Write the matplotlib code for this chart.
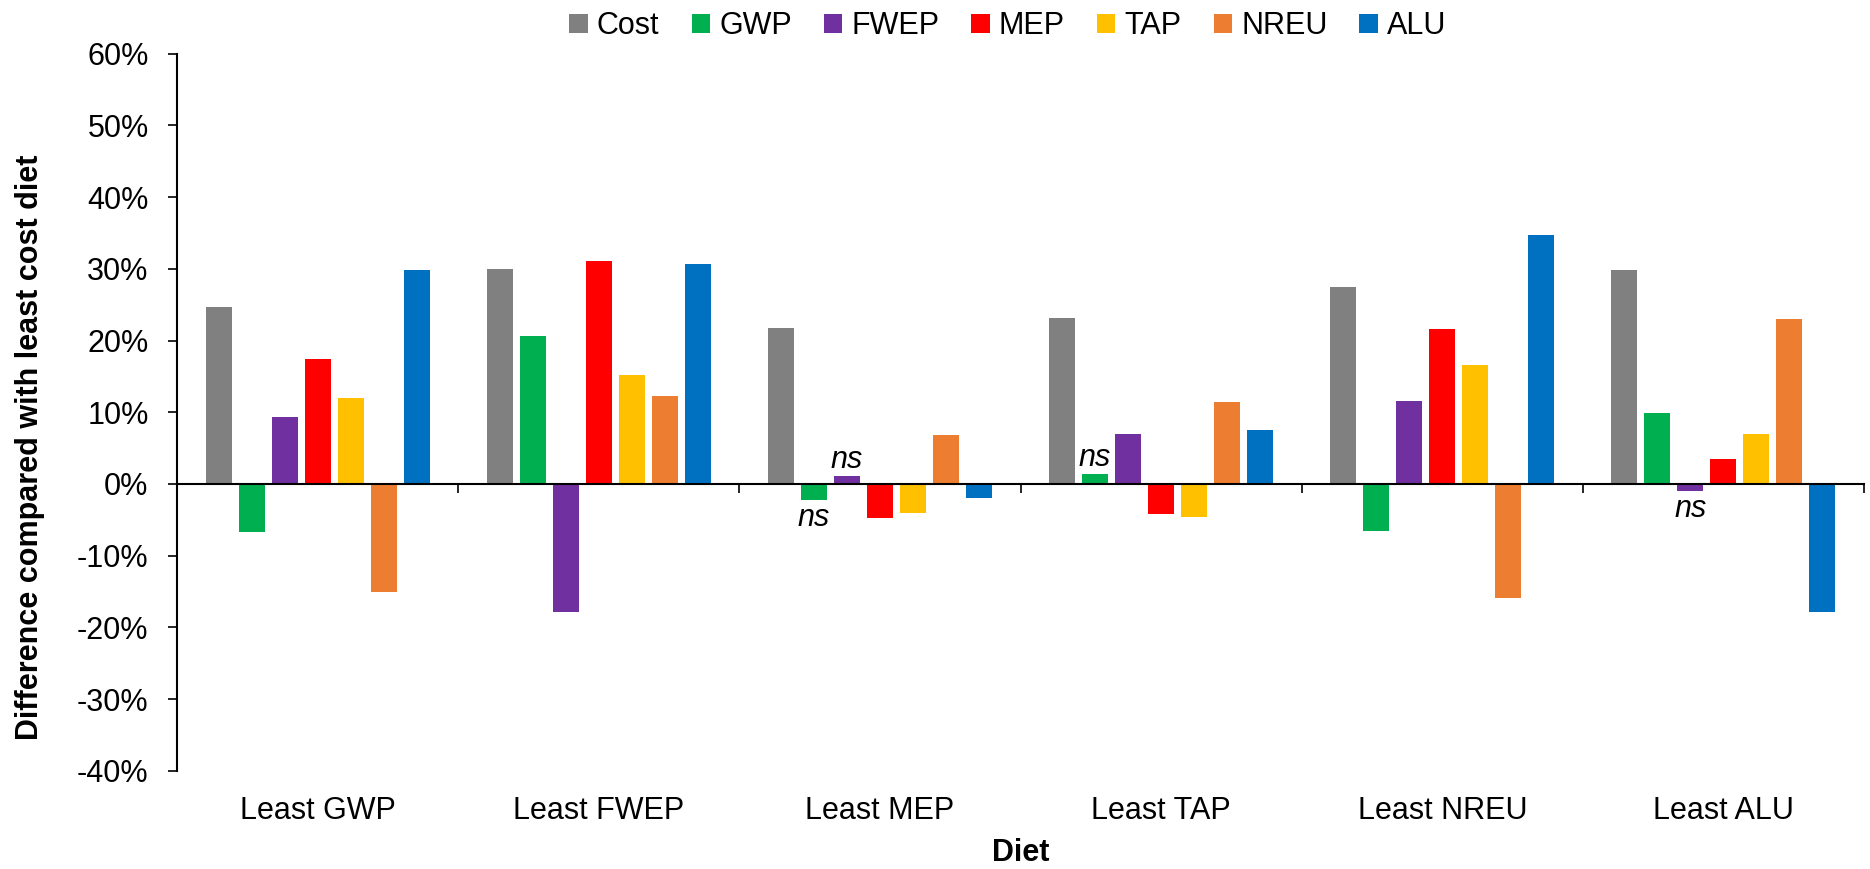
import matplotlib.pyplot as plt
import numpy as np
from matplotlib.transforms import blended_transform_factory
from matplotlib.ticker import FuncFormatter

# % difference of each optimised diet against the least cost diet
diets = ['Least GWP', 'Least FWEP', 'Least MEP', 'Least TAP', 'Least NREU', 'Least ALU']
series = ['Cost', 'GWP', 'FWEP', 'MEP', 'TAP', 'NREU', 'ALU']

cost = [24.7, 30.0, 21.7, 23.2, 27.4, 29.8]
gwp = [-6.7, 20.6, -2.3, 1.4, -6.6, 9.9]
fwep = [9.4, -17.9, 1.1, 7.0, 11.5, -1.0]
mep = [17.4, 31.1, -4.8, -4.2, 21.6, 3.5]
tap = [12.0, 15.2, -4.1, -4.6, 16.6, 7.0]
nreu = [-15.0, 12.2, 6.8, 11.4, -15.9, 23.0]
alu = [29.8, 30.7, -2.0, 7.5, 34.7, -17.8]

values = [cost, gwp, fwep, mep, tap, nreu, alu]
colours = ['#808080', '#00B050', '#7030A0', '#FF0000', '#FFC000', '#ED7D31', '#0070C0']

# differences that are not significant: (series, diet)
ns_marks = [('GWP', 2), ('FWEP', 2), ('GWP', 3), ('FWEP', 5)]

plt.rcParams['font.family'] = 'Liberation Sans'
fs = 22

fig = plt.figure(figsize=(18.7, 8.69), dpi=100)
ax = fig.add_axes([0.0947, 0.1128, 0.9021, 0.8256])

x = np.arange(len(diets)) + 0.5
slot = 0.1174
width = 0.0925

for k in range(len(series)):
	ax.bar(x + (k - 3) * slot, values[k], width, color=colours[k], label=series[k], zorder=2)

# ns labels sit just past the end of the bar
for name, i in ns_marks:
	k = series.index(name)
	v = values[k][i]
	if v >= 0:
		off, va = 1, 'bottom'
	else:
		off, va = -2, 'top'
	ax.annotate('ns', (x[i] + (k - 3) * slot, v), xytext=(0, off), textcoords='offset points',
		ha='center', va=va, fontsize=fs, style='italic')

ax.set_xlim(0, len(diets))
ax.set_ylim(-40, 60)
ax.set_yticks(range(-40, 61, 10))
ax.yaxis.set_major_formatter(FuncFormatter(lambda v, p: '%d%%' % v))

ax.spines['top'].set_visible(False)
ax.spines['right'].set_visible(False)
ax.spines['bottom'].set_position(('data', 0))
ax.spines['bottom'].set_linewidth(1.5)
ax.spines['left'].set_linewidth(1.5)
ax.spines['bottom'].set_zorder(3)

ax.set_xticks(range(len(diets) + 1))
ax.set_xticklabels([])
ax.tick_params(axis='x', direction='out', length=6.5, width=1.2)
ax.tick_params(axis='y', direction='out', length=6.5, width=1.2, labelsize=fs, pad=14)

trans = blended_transform_factory(ax.transData, ax.transAxes)
for i in range(len(diets)):
	ax.text(x[i], -0.056, diets[i], transform=trans, ha='center', va='center', fontsize=fs)

fig.text(0.546, 0.018, 'Diet', ha='center', va='center', fontsize=fs, fontweight='bold')
fig.text(0.016, 0.485, 'Difference compared with least cost diet', ha='center', va='center',
	rotation=90, fontsize=fs, fontweight='bold')

fig.legend(loc='upper center', bbox_to_anchor=(0.539, 1.008), ncol=7, frameon=False, fontsize=fs,
	handlelength=0.6, handleheight=0.6, handletextpad=0.3, columnspacing=1.05, borderaxespad=0.2)

plt.savefig('out.png', dpi=100)
